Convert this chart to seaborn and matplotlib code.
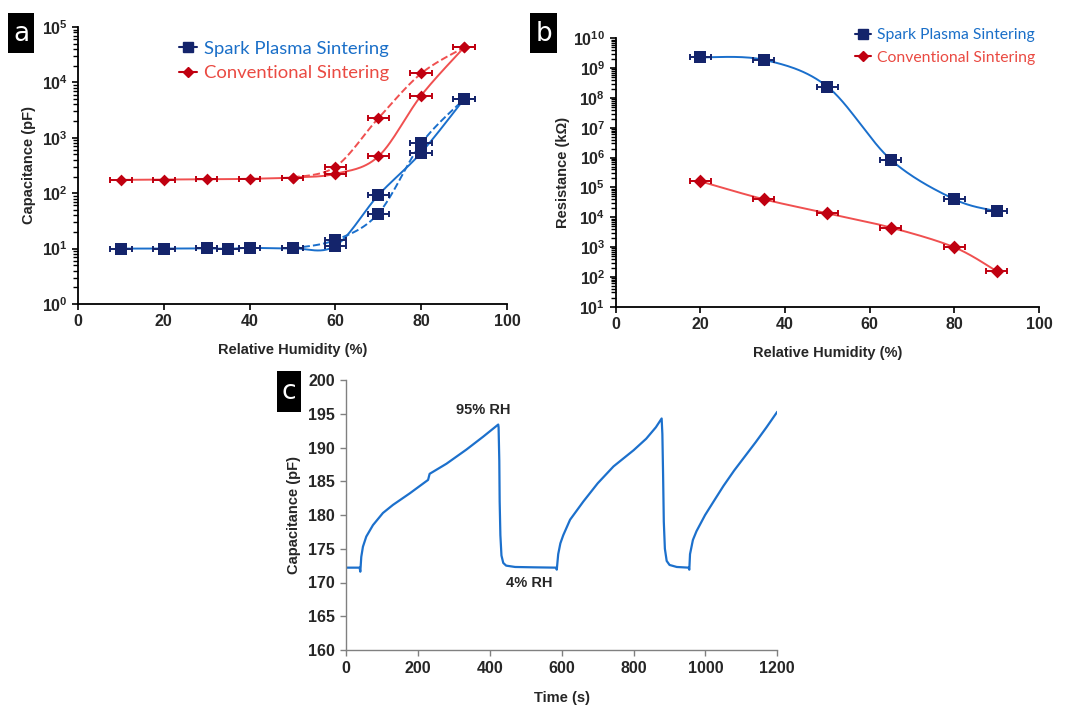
import numpy as np
import pandas as pd
import matplotlib
matplotlib.use("Agg")
import matplotlib.pyplot as plt
from matplotlib.ticker import FuncFormatter, NullFormatter
import seaborn as sns

# ---------------- data ----------------
# Panel a: capacitance vs RH
sps_a_rh = [10, 20, 30, 35, 40, 50, 60, 70, 80, 90]
sps_a_cap = [10, 10, 10.1, 9.9, 10.3, 10.1, 11.2, 92, 540, 5000]
sps_a_rh_d = [50, 60, 70, 80, 90]
sps_a_cap_d = [10.1, 14.3, 43, 790, 5000]
cs_a_rh = [10, 20, 30, 40, 50, 60, 70, 80, 90]
cs_a_cap = [174, 176, 178, 182, 192, 224, 460, 5800, 42800]
cs_a_rh_d = [50, 60, 70, 80, 90]
cs_a_cap_d = [192, 300, 2250, 14500, 42800]

# Panel b: resistance vs RH
b_rh = [20, 35, 50, 65, 80, 90]
sps_b_res = [2.3e9, 1.9e9, 2.4e8, 8.5e5, 4.0e4, 1.6e4]
cs_b_res = [1.6e5, 4.0e4, 1.35e4, 4.5e3, 980, 155]

rh_err = 2.5

# Panel c: capacitance vs time
c_time = [0, 20, 37, 39, 41.7, 46.3, 55.6, 74.2, 102, 130, 176.5, 227.7, 232, 279,
          334.6, 381, 423,
          424, 426, 427, 429, 432, 437, 445, 470, 520, 584, 586,
          590, 596, 604, 623, 660, 700, 744, 800, 835, 862, 878,
          880, 882, 884, 887, 892, 900, 920, 953, 955,
          957, 965, 975, 999, 1025, 1050, 1080, 1110, 1140, 1170, 1200]
c_cap = [172.2, 172.2, 172.2, 171.6, 173.8, 175.3, 176.8, 178.5, 180.3, 181.5, 183.2,
         185.2, 186.1, 187.6, 189.7, 191.6, 193.4,
         193.0, 188.0, 182.0, 177.0, 174.0, 172.9, 172.5, 172.3, 172.25, 172.2, 171.9,
         174.2, 175.8, 177.0, 179.3, 182.0, 184.7, 187.2, 189.6, 191.3, 193.0, 194.3,
         192.0, 186.0, 179.0, 175.0, 173.2, 172.6, 172.3, 172.2, 171.9,
         174.2, 176.3, 177.6, 180.0, 182.2, 184.3, 186.6, 188.7, 190.8, 193.0, 195.3]

sps_label = "Spark Plasma Sintering"
cs_label = "Conventional Sintering"

# ---------------- style ----------------
sns.set_theme(style="ticks")
plt.rcParams["font.family"] = ["Liberation Sans", "DejaVu Sans"]
plt.rcParams["mathtext.fontset"] = "custom"
plt.rcParams["mathtext.rm"] = "Liberation Sans:bold"
plt.rcParams["mathtext.bf"] = "Liberation Sans:bold"
plt.rcParams["mathtext.it"] = "Liberation Sans:bold"
plt.rcParams["ytick.minor.visible"] = True
plt.rcParams["ytick.minor.size"] = 3.5
plt.rcParams["ytick.minor.width"] = 1.0

SPS_LINE = "#1a6fcc"
SPS_MARK = "#14246b"
CS_LINE = "#f05050"
CS_MARK = "#c00010"
SPS_TEXT = "#1a6fc8"
CS_TEXT = "#ea4a42"
C_LINE = "#1c70cc"
TICK_FS = 11.5


def smooth(x, y, sx, sy, n=30):
    """Bezier smoothing (Excel-like) in display-proportional log space."""
    X = np.asarray(x, float) * sx
    Y = np.log10(np.asarray(y, float)) * sy
    P = np.column_stack([X, Y])
    m = len(P)
    out = []
    for i in range(m - 1):
        p0 = P[i - 1] if i > 0 else P[i]
        p1 = P[i]
        p2 = P[i + 1]
        p3 = P[i + 2] if i + 2 < m else P[i + 1]
        b1 = p1 + (p2 - p0) / 6.0
        b2 = p2 - (p3 - p1) / 6.0
        t = np.linspace(0, 1, n)[:, None]
        seg = (1 - t) ** 3 * p1 + 3 * (1 - t) ** 2 * t * b1 + 3 * (1 - t) * t ** 2 * b2 + t ** 3 * p2
        out.append(seg if i == 0 else seg[1:])
    S = np.vstack(out)
    return S[:, 0] / sx, 10 ** (S[:, 1] / sy)


def log_fmt(v, pos):
    if v <= 0:
        return ""
    e = int(round(np.log10(v)))
    return r"$\mathbf{10^{%d}}$" % e


def decade_ticks(lo, hi):
    major = [10.0 ** e for e in range(lo, hi + 1)]
    minor = [m * 10.0 ** e for e in range(lo, hi) for m in range(2, 10)]
    return major, minor


def panel_letter(fig, x, y, w, h, letter):
    ax = fig.add_axes([x, y, w, h])
    ax.set_facecolor("black")
    for s in ax.spines.values():
        s.set_visible(False)
    ax.set_xticks([])
    ax.set_yticks([])
    ax.minorticks_off()
    ax.text(0.5, 0.48, letter, color="white", fontsize=19, ha="center", va="center",
            transform=ax.transAxes, family=["DejaVu Sans"])


W, H = 1068, 706
fig = plt.figure(figsize=(W / 100, H / 100), dpi=100)
fig.patch.set_facecolor("white")

# ---------------- panel a ----------------
axa = fig.add_axes([78 / W, 1 - 304 / H, (507 - 78) / W, (304 - 27) / H])
axa.set_yscale("log")
axa.set_xlim(0, 100)
axa.set_ylim(1, 1e5)
sxa, sya = 429 / 100, 55.4

for xs, ys, col, ls in [
    (sps_a_rh, sps_a_cap, SPS_LINE, "-"),
    (sps_a_rh_d, sps_a_cap_d, SPS_LINE, "--"),
    (cs_a_rh, cs_a_cap, CS_LINE, "-"),
    (cs_a_rh_d, cs_a_cap_d, CS_LINE, "--"),
]:
    sx_, sy_ = smooth(xs, ys, sxa, sya)
    axa.plot(sx_, sy_, color=col, lw=1.4, ls=ls, zorder=2)

for xs, ys, mc, mk, ms in [
    (sps_a_rh, sps_a_cap, SPS_MARK, "s", 8),
    (sps_a_rh_d, sps_a_cap_d, SPS_MARK, "s", 8),
    (cs_a_rh, cs_a_cap, CS_MARK, "D", 6),
    (cs_a_rh_d, cs_a_cap_d, CS_MARK, "D", 6),
]:
    axa.errorbar(xs, ys, xerr=rh_err, fmt="none", ecolor=mc, elinewidth=1.4,
                 capsize=2, capthick=1.4, zorder=3)
    sns.scatterplot(x=xs, y=ys, ax=axa, marker=mk, s=ms ** 2, color=mc,
                    edgecolor=mc, linewidth=0, zorder=4, legend=False)

h1 = axa.plot([], [], color=SPS_MARK, marker="s", ms=7, lw=1.5)[0]
h2 = axa.plot([], [], color=CS_MARK, marker="D", ms=5.5, lw=1.5)[0]
leg = axa.legend([h1, h2], [sps_label, cs_label], loc="upper left",
                 bbox_to_anchor=(0.196, 1.010), frameon=False, handlelength=1.0,
                 handletextpad=0.35, labelspacing=0.45,
                 prop=dict(family="Lato", size=13.3))
for t, c in zip(leg.get_texts(), [SPS_TEXT, CS_TEXT]):
    t.set_color(c)

axa.set_xticks([0, 20, 40, 60, 80, 100])
maj, mnr = decade_ticks(0, 5)
axa.set_yticks(maj)
axa.set_yticks(mnr, minor=True)
axa.yaxis.set_major_formatter(FuncFormatter(log_fmt))
axa.yaxis.set_minor_formatter(NullFormatter())
axa.set_xlabel("Relative Humidity (%)", fontsize=10.5, fontweight="bold", labelpad=10)
axa.set_ylabel("Capacitance (pF)", fontsize=10.5, fontweight="bold", labelpad=4)
sns.despine(ax=axa)

# ---------------- panel b ----------------
axb = fig.add_axes([615.7 / W, 1 - 306.7 / H, (1039 - 615.7) / W, (306.7 - 38.3) / H])
axb.set_yscale("log")
axb.set_xlim(0, 100)
axb.set_ylim(10, 1e10)
sxb, syb = 423.3 / 100, 29.8

for ys, col in [(sps_b_res, SPS_LINE), (cs_b_res, CS_LINE)]:
    sx_, sy_ = smooth(b_rh, ys, sxb, syb)
    axb.plot(sx_, sy_, color=col, lw=1.4, zorder=2)
for ys, mc, mk, ms in [(sps_b_res, SPS_MARK, "s", 8), (cs_b_res, CS_MARK, "D", 7)]:
    axb.errorbar(b_rh, ys, xerr=rh_err, fmt="none", ecolor=mc, elinewidth=1.4,
                 capsize=2, capthick=1.4, zorder=3)
    sns.scatterplot(x=b_rh, y=ys, ax=axb, marker=mk, s=ms ** 2, color=mc,
                    edgecolor=mc, linewidth=0, zorder=4, legend=False)

h1b = axb.plot([], [], color=SPS_MARK, marker="s", ms=7, lw=1.5)[0]
h2b = axb.plot([], [], color=CS_MARK, marker="D", ms=5.5, lw=1.5)[0]
legb = axb.legend([h1b, h2b], [sps_label, cs_label], loc="upper left",
                  bbox_to_anchor=(0.532, 1.091), frameon=False, handlelength=1.0,
                  handletextpad=0.4, labelspacing=0.55,
                  prop=dict(family="Lato", size=11.3))
for t, c in zip(legb.get_texts(), [SPS_TEXT, CS_TEXT]):
    t.set_color(c)

axb.set_xticks([0, 20, 40, 60, 80, 100])
maj, mnr = decade_ticks(1, 10)
axb.set_yticks(maj)
axb.set_yticks(mnr, minor=True)
axb.yaxis.set_major_formatter(FuncFormatter(log_fmt))
axb.yaxis.set_minor_formatter(NullFormatter())
axb.set_xlabel("Relative Humidity (%)", fontsize=10.5, fontweight="bold", labelpad=10)
axb.set_ylabel("Resistance (k\u03a9)", fontsize=10.5, fontweight="bold", labelpad=2)
sns.despine(ax=axb)

for ax in (axa, axb):
    ax.tick_params(axis="both", which="major", length=4.5, width=1.2, color="black",
                   labelsize=TICK_FS, pad=3)
    ax.tick_params(axis="y", which="minor", length=3.5, width=1.0, color="black",
                   left=True)
    ax.tick_params(axis="x", which="minor", bottom=False)
    for lab in ax.get_xticklabels():
        lab.set_fontweight("bold")
    for s in ("left", "bottom"):
        ax.spines[s].set_color("black")
        ax.spines[s].set_linewidth(1.3)

# ---------------- panel c ----------------
axc = fig.add_axes([346.3 / W, 1 - 650 / H, (777.3 - 346.3) / W, (650 - 380) / H])
dfc = pd.DataFrame({"Time (s)": c_time, "Capacitance (pF)": c_cap})
sns.lineplot(data=dfc, x="Time (s)", y="Capacitance (pF)", ax=axc, color=C_LINE,
             lw=1.6, estimator=None, sort=False)
axc.set_xlim(0, 1200)
axc.set_ylim(160, 200)
axc.set_xticks(np.arange(0, 1201, 200))
axc.set_yticks(np.arange(160, 201, 5))
axc.minorticks_off()
axc.tick_params(axis="both", length=4, width=1, color="#808080", labelsize=TICK_FS, pad=4)
for lab in axc.get_xticklabels() + axc.get_yticklabels():
    lab.set_fontweight("bold")
sns.despine(ax=axc)
for s in ("left", "bottom"):
    axc.spines[s].set_color("#808080")
    axc.spines[s].set_linewidth(1.0)
axc.set_xlabel("Time (s)", fontsize=10.5, fontweight="bold", labelpad=11)
axc.set_ylabel("Capacitance (pF)", fontsize=10.5, fontweight="bold", labelpad=5)
axc.text(381, 195.6, "95% RH", fontsize=10.5, fontweight="bold", ha="center", va="center")
axc.text(509, 169.9, "4% RH", fontsize=10.5, fontweight="bold", ha="center", va="center")

# panel letters
panel_letter(fig, 8 / W, 1 - 53 / H, 26 / W, 40 / H, "a")
panel_letter(fig, 530 / W, 1 - 53 / H, 27 / W, 40 / H, "b")
panel_letter(fig, 277 / W, 1 - 412 / H, 24 / W, 41 / H, "c")

fig.savefig("out.png", dpi=100, facecolor="white")
